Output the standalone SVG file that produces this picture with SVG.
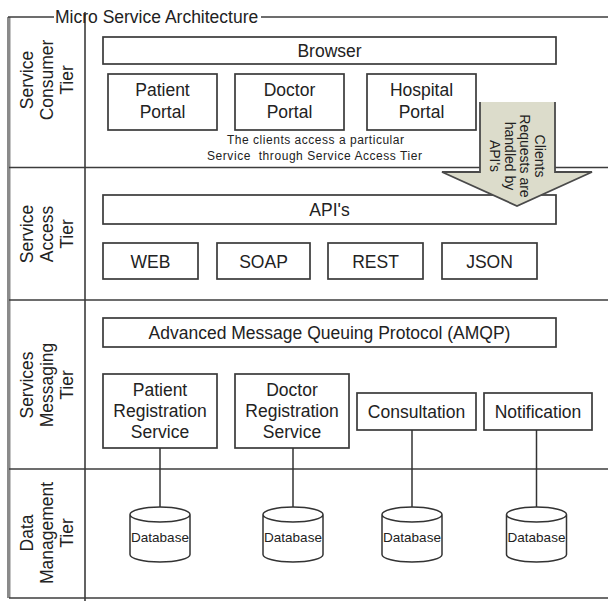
<svg xmlns="http://www.w3.org/2000/svg" width="608" height="601" viewBox="0 0 608 601">
  <style>
    text { font-family: "Liberation Sans", Arial, sans-serif; fill: #222222; }
    .lbl { font-size: 17.5px; text-anchor: middle; }
    .tier { font-size: 17.5px; text-anchor: middle; }
    .note { font-size: 12px; white-space: pre; }
    .arrtxt { font-size: 14px; text-anchor: middle; }
    .db { font-size: 13.5px; text-anchor: middle; }
    .box { fill: #ffffff; stroke: #3a3a3a; stroke-width: 1.7; }
    .frame { fill: none; stroke: #3c3c3c; stroke-width: 1.6; }
    .conn { fill: none; stroke: #333333; stroke-width: 1.5; }
    .cyl { fill: #ffffff; stroke: #333333; stroke-width: 1.5; }
  </style>

  <!-- outer frame and tier grid -->
  <g id="frame">
    <rect x="7" y="17" width="3.5" height="581" fill="#8a8a8a"/>
    <line class="frame" x1="8" y1="17" x2="54" y2="17"/>
    <line class="frame" x1="261" y1="17" x2="608" y2="17"/>
    <line class="frame" x1="85" y1="12" x2="85" y2="601"/>
    <line class="frame" x1="9" y1="167.5" x2="608" y2="167.5"/>
    <line class="frame" x1="9" y1="300" x2="608" y2="300"/>
    <line class="frame" x1="9" y1="469" x2="608" y2="469"/>
    <line class="frame" x1="9" y1="598" x2="608" y2="598"/>
    <text x="55" y="22.5" style="font-size:17.5px">Micro Service Architecture</text>
  </g>

  <!-- tier labels -->
  <g id="tier-consumer">
    <text class="tier" transform="translate(0,80) rotate(-90)"><tspan x="0" y="33">Service</tspan><tspan x="0" y="53">Consumer</tspan><tspan x="0" y="72.5">Tier</tspan></text>
  </g>
  <g id="tier-access">
    <text class="tier" transform="translate(0,234) rotate(-90)"><tspan x="0" y="33">Service</tspan><tspan x="0" y="53">Access</tspan><tspan x="0" y="72.5">Tier</tspan></text>
  </g>
  <g id="tier-messaging">
    <text class="tier" transform="translate(0,385) rotate(-90)"><tspan x="0" y="33">Services</tspan><tspan x="0" y="53">Messaging</tspan><tspan x="0" y="72.5">Tier</tspan></text>
  </g>
  <g id="tier-data">
    <text class="tier" transform="translate(0,533) rotate(-90)"><tspan x="0" y="33">Data</tspan><tspan x="0" y="53">Management</tspan><tspan x="0" y="72.5">Tier</tspan></text>
  </g>

  <!-- service consumer tier -->
  <g id="browser">
    <rect class="box" x="103" y="37" width="453" height="27"/>
    <text class="lbl" x="329.5" y="56.5">Browser</text>
  </g>
  <g id="patient-portal">
    <rect class="box" x="108" y="74" width="109" height="56"/>
    <text class="lbl" x="162.5" y="96">Patient</text>
    <text class="lbl" x="162.5" y="118">Portal</text>
  </g>
  <g id="doctor-portal">
    <rect class="box" x="235" y="74" width="109" height="56"/>
    <text class="lbl" x="289.5" y="96">Doctor</text>
    <text class="lbl" x="289.5" y="118">Portal</text>
  </g>
  <g id="hospital-portal">
    <rect class="box" x="367" y="74" width="109" height="56"/>
    <text class="lbl" x="421.5" y="96">Hospital</text>
    <text class="lbl" x="421.5" y="118">Portal</text>
  </g>
  <g id="consumer-note">
    <text class="note" x="227" y="144" textLength="177" lengthAdjust="spacing">The clients access a particular</text>
    <text class="note" x="207" y="160" textLength="215" lengthAdjust="spacing">Service  through Service Access Tier</text>
  </g>

  <!-- service access tier -->
  <g id="apis">
    <rect class="box" x="103" y="195" width="453" height="29"/>
    <text class="lbl" x="329.5" y="215.5">API's</text>
  </g>
  <g id="web">
    <rect class="box" x="103" y="243" width="95" height="36"/>
    <text class="lbl" x="150.5" y="267.5">WEB</text>
  </g>
  <g id="soap">
    <rect class="box" x="217" y="243" width="93" height="36"/>
    <text class="lbl" x="263.5" y="267.5">SOAP</text>
  </g>
  <g id="rest">
    <rect class="box" x="328" y="243" width="95" height="36"/>
    <text class="lbl" x="375.5" y="267.5">REST</text>
  </g>
  <g id="json">
    <rect class="box" x="442" y="243" width="95" height="36"/>
    <text class="lbl" x="489.5" y="267.5">JSON</text>
  </g>

  <!-- request flow arrow -->
  <g id="request-arrow">
    <polygon points="480,102 555,102 555,172 592,172 517,206 442,172 480,172" fill="#dcdccb"/>
    <path d="M480,102 V172 H442 L517,206 L592,172 H555 V102" fill="none" stroke="#4a4a4a" stroke-width="1.8" stroke-linejoin="miter"/>
    <text class="arrtxt" transform="translate(518,156) rotate(90)"><tspan x="0" y="-17">Clients</tspan><tspan x="0" y="-2">Requests are</tspan><tspan x="0" y="13">handled by</tspan><tspan x="0" y="28">API's</tspan></text>
  </g>

  <!-- services messaging tier -->
  <g id="amqp">
    <rect class="box" x="103" y="318" width="453" height="29"/>
    <text class="lbl" x="329.5" y="338.5">Advanced Message Queuing Protocol (AMQP)</text>
  </g>
  <g id="patient-registration">
    <rect class="box" x="103" y="374" width="114" height="74"/>
    <text class="lbl" x="160" y="396">Patient</text>
    <text class="lbl" x="160" y="417">Registration</text>
    <text class="lbl" x="160" y="438">Service</text>
  </g>
  <g id="doctor-registration">
    <rect class="box" x="235" y="374" width="114" height="74"/>
    <text class="lbl" x="292" y="396">Doctor</text>
    <text class="lbl" x="292" y="417">Registration</text>
    <text class="lbl" x="292" y="438">Service</text>
  </g>
  <g id="consultation">
    <rect class="box" x="357" y="393" width="119" height="37"/>
    <text class="lbl" x="416.5" y="417.5">Consultation</text>
  </g>
  <g id="notification">
    <rect class="box" x="484" y="393" width="108" height="37"/>
    <text class="lbl" x="538" y="417.5">Notification</text>
  </g>

  <!-- service to database links -->
  <g id="connectors">
    <line class="conn" x1="160" y1="448" x2="160" y2="507"/>
    <line class="conn" x1="293" y1="448" x2="293" y2="507"/>
    <line class="conn" x1="412" y1="430" x2="412" y2="507"/>
    <line class="conn" x1="536.5" y1="430" x2="536.5" y2="507"/>
  </g>

  <!-- data management tier -->
  <g id="db-patient">
    <path class="cyl" d="M130,514.5 a30,7.5 0 0,1 60,0 v40 a30,7.5 0 0,1 -60,0 z M130,514.5 a30,7.5 0 0,0 60,0"/>
    <text class="db" x="160" y="541.5">Database</text>
  </g>
  <g id="db-doctor">
    <path class="cyl" d="M263,514.5 a30,7.5 0 0,1 60,0 v40 a30,7.5 0 0,1 -60,0 z M263,514.5 a30,7.5 0 0,0 60,0"/>
    <text class="db" x="293" y="541.5">Database</text>
  </g>
  <g id="db-consultation">
    <path class="cyl" d="M382,514.5 a30,7.5 0 0,1 60,0 v40 a30,7.5 0 0,1 -60,0 z M382,514.5 a30,7.5 0 0,0 60,0"/>
    <text class="db" x="412" y="541.5">Database</text>
  </g>
  <g id="db-notification">
    <path class="cyl" d="M506.5,514.5 a30,7.5 0 0,1 60,0 v40 a30,7.5 0 0,1 -60,0 z M506.5,514.5 a30,7.5 0 0,0 60,0"/>
    <text class="db" x="536.5" y="541.5">Database</text>
  </g>
</svg>
